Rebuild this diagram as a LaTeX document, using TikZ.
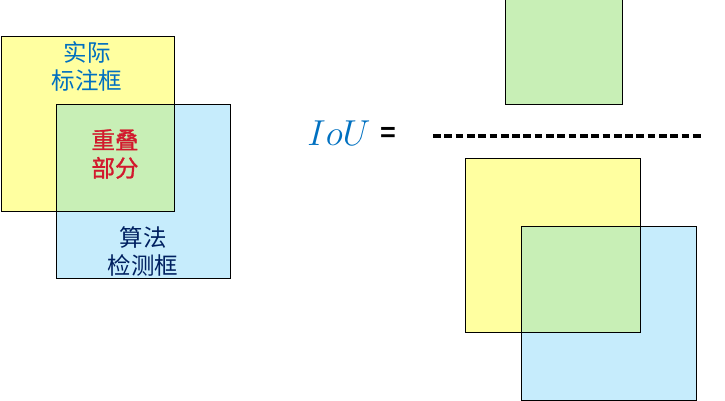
\documentclass[tikz,border=0pt]{standalone}
\usepackage{fontspec}
\usepackage{tikz}
\newfontfamily\cjk{Noto Sans CJK SC}
\newfontfamily\cjkheavy{Noto Sans CJK SC}[FakeBold=1.2]
\newfontfamily\eqfont{Liberation Sans}

\definecolor{boxyellow}{RGB}{255,255,160}
\definecolor{boxblue}{RGB}{198,236,252}
\definecolor{boxgreen}{RGB}{200,239,182}
\definecolor{labelblue}{RGB}{0,112,192}
\definecolor{labelnavy}{RGB}{0,32,96}
\definecolor{labelred}{RGB}{210,25,45}

\begin{document}
\begin{tikzpicture}
  [ x=1pt, y=-1pt
  , area/.style={rectangle, inner sep=0pt, outer sep=0pt}
  , label/.style={align=center, inner sep=0pt, font=\cjk\fontsize{23.5}{28}\selectfont}
  , frame/.style={line width=1pt, black}]
  \useasboundingbox (0,0) rectangle (725,401);
  % left picture: labelled box and detected box
  \node (gt) at (87.5, 124) [area, fill=boxyellow, minimum width=173pt, minimum height=174pt] {};
  \node (det) at (143, 191.5) [area, fill=boxblue, minimum width=174pt, minimum height=173pt] {};
  \fill [boxgreen] (det.north west) rectangle (gt.south east);
  \draw [frame] (gt.north west) rectangle (gt.south east);
  \draw [frame] (det.north west) rectangle (det.south east);
  \node (gttext) at (87, 66) [label, text=labelblue] {实际\\标注框};
  \node (ovtext) at (115, 154) [label, text=labelred, font=\cjkheavy\fontsize{23.5}{28}\selectfont] {重叠\\部分};
  \node (dettext) at (143, 251) [label, text=labelnavy] {算法\\检测框};
  % right picture: the ratio
  \node (iou) at (339, 133) [inner sep=0pt, text=labelblue, font=\fontsize{24.88}{24.88}\selectfont, scale=1.45, transform shape] {$IoU$};
  \node (eq) at (388, 134) [inner sep=0pt, font=\eqfont\bfseries\fontsize{27}{27}\selectfont] {=};
  \node (inter) at (563.5, 52.5) [area, fill=boxgreen, draw, line width=1pt, minimum width=117pt, minimum height=105pt] {};
  \coordinate (barl) at (433, 136);
  \coordinate (barr) at (704, 136);
  \draw [line width=3pt, dash pattern=on 7.7pt off 3.6pt] (barl) -- (barr);
  \node (gtr) at (552.5, 245) [area, fill=boxyellow, minimum width=175pt, minimum height=174pt] {};
  \node (detr) at (608.5, 313) [area, fill=boxblue, minimum width=175pt, minimum height=174pt] {};
  \fill [boxgreen] (detr.north west) rectangle (gtr.south east);
  \draw [frame] (gtr.north west) rectangle (gtr.south east);
  \draw [frame] (detr.north west) rectangle (detr.south east);
\end{tikzpicture}
\end{document}
